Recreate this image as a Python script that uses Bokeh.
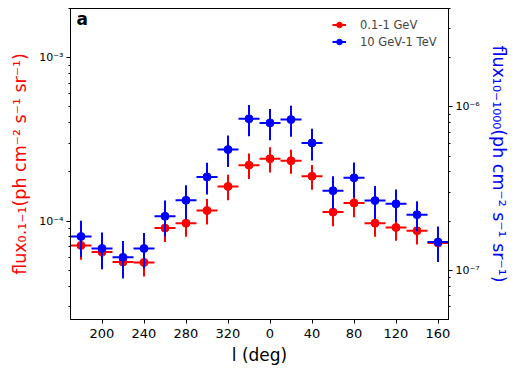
from bokeh.plotting import figure
from bokeh.models import (Range1d, LogScale, LogAxis, FixedTicker, Legend, LegendItem,
                          Label, ColumnDataSource)
from bokeh.embed import file_html
from bokeh.resources import INLINE

# ---------------- data ----------------
l_deg = [180, 200, 220, 240, 260, 280, 300, 320, 340, 0, 20, 40, 60, 80, 100, 120, 140, 160]
bin_half_width = 10

flux_low = [7.10e-5, 6.47e-5, 5.62e-5, 5.59e-5, 9.06e-5, 9.72e-5, 1.16e-4, 1.63e-4, 2.20e-4,
            2.41e-4, 2.34e-4, 1.88e-4, 1.135e-4, 1.29e-4, 9.72e-5, 9.14e-5, 8.73e-5, 7.34e-5]
err_low = [1.3e-5, 1.2e-5, 1.0e-5, 1.0e-5, 1.6e-5, 1.7e-5, 2.05e-5, 2.9e-5, 3.9e-5,
           4.25e-5, 3.9e-5, 3.25e-5, 2.05e-5, 2.35e-5, 1.7e-5, 1.55e-5, 1.55e-5, 1.3e-5]

flux_high = [1.61e-7, 1.36e-7, 1.20e-7, 1.36e-7, 2.14e-7, 2.68e-7, 3.73e-7, 5.48e-7, 8.45e-7,
             7.98e-7, 8.36e-7, 6.02e-7, 3.07e-7, 3.68e-7, 2.67e-7, 2.55e-7, 2.19e-7, 1.49e-7]
err_high = [4.0e-8, 3.45e-8, 3.1e-8, 3.3e-8, 5.3e-8, 6.3e-8, 8.2e-8, 1.2e-7, 1.83e-7,
            1.73e-7, 1.79e-7, 1.32e-7, 6.9e-8, 8.8e-8, 6.1e-8, 5.7e-8, 4.6e-8, 3.65e-8]

x_tick_labels = ["200", "240", "280", "320", "0", "40", "80", "120", "160"]
left_major = [1e-4, 1e-3]
left_major_labels = ["10⁻⁴", "10⁻³"]
left_minor = [3e-5, 4e-5, 5e-5, 6e-5, 7e-5, 8e-5, 9e-5,
              2e-4, 3e-4, 4e-4, 5e-4, 6e-4, 7e-4, 8e-4, 9e-4, 2e-3]
right_major = [1e-7, 1e-6]
right_major_labels = ["10⁻⁷", "10⁻⁶"]
right_minor = [6e-8, 7e-8, 8e-8, 9e-8,
               2e-7, 3e-7, 4e-7, 5e-7, 6e-7, 7e-7, 8e-7, 9e-7, 2e-6, 3e-6, 4e-6]

series_names = ["0.1-1 GeV", "10 GeV-1 TeV"]
RED = "#ff0000"
BLUE = "#0000ff"
FONT = "DejaVu Sans"


def unwrap(l):
    # longitude axis runs 170 -> 360 -> 170 (i.e. wraps through 0)
    return l if l >= 170 else l + 360


xs = [unwrap(v) for v in l_deg]

p = figure(width=518, height=372, y_axis_type="log",
           x_range=Range1d(170, 530), y_range=Range1d(2.5e-5, 2.0e-3),
           output_backend="svg", toolbar_location=None)
p.extra_y_ranges = {"hi": Range1d(5.0e-8, 4.0e-6)}
p.extra_y_scales = {"hi": LogScale()}

p.min_border_left = 70
p.min_border_right = 70
p.min_border_top = 8
p.min_border_bottom = 53
p.background_fill_color = "white"
p.border_fill_color = "white"
p.outline_line_color = "black"
p.outline_line_width = 1
p.xgrid.visible = False
p.ygrid.visible = False


def src(ys, es):
    return ColumnDataSource(dict(
        x=xs, y=ys,
        xl=[x - bin_half_width for x in xs], xr=[x + bin_half_width for x in xs],
        yl=[y - e for y, e in zip(ys, es)], yh=[y + e for y, e in zip(ys, es)]))


s_low = src(flux_low, err_low)
s_high = src(flux_high, err_high)

r_low = [
    p.segment("xl", "y", "xr", "y", source=s_low, line_color=RED, line_width=2),
    p.segment("x", "yl", "x", "yh", source=s_low, line_color=RED, line_width=2),
    p.scatter("x", "y", source=s_low, size=8, fill_color=RED, line_color=RED),
]
r_high = [
    p.segment("xl", "y", "xr", "y", source=s_high, line_color=BLUE, line_width=2, y_range_name="hi"),
    p.segment("x", "yl", "x", "yh", source=s_high, line_color=BLUE, line_width=2, y_range_name="hi"),
    p.scatter("x", "y", source=s_high, size=8, fill_color=BLUE, line_color=BLUE, y_range_name="hi"),
]

# ---------------- axes ----------------
x_tick_pos = [unwrap(int(t)) for t in x_tick_labels]
xa = p.xaxis[0]
xa.ticker = FixedTicker(ticks=x_tick_pos, minor_ticks=[])
xa.major_label_overrides = {pos: lab for pos, lab in zip(x_tick_pos, x_tick_labels)}
xa.axis_label = "l (deg)"

ya = p.yaxis[0]
ya.ticker = FixedTicker(ticks=left_major, minor_ticks=left_minor)
ya.major_label_overrides = {v: lab for v, lab in zip(left_major, left_major_labels)}
ya.axis_label = "flux₀.₁₋₁(ph cm⁻² s⁻¹ sr⁻¹)"
ya.axis_label_text_color = RED

ra = LogAxis(y_range_name="hi")
ra.ticker = FixedTicker(ticks=right_major, minor_ticks=right_minor)
ra.major_label_overrides = {v: lab for v, lab in zip(right_major, right_major_labels)}
ra.axis_label = "flux₁₀₋₁₀₀₀(ph cm⁻² s⁻¹ sr⁻¹)"
ra.axis_label_text_color = BLUE
p.add_layout(ra, "right")

for ax in [xa, ya, ra]:
    ax.axis_line_color = "black"
    ax.major_tick_line_color = "black"
    ax.minor_tick_line_color = "black"
    ax.major_tick_in = 0
    ax.major_tick_out = 4
    ax.minor_tick_in = 0
    ax.minor_tick_out = 2
    ax.major_label_text_font = FONT
    ax.major_label_text_color = "black"
    ax.axis_label_text_font = FONT
    ax.axis_label_text_font_style = "normal"

xa.major_label_text_font_size = "13px"
xa.axis_label_text_font_size = "17px"
xa.axis_label_text_color = "black"
xa.axis_label_standoff = 4
for ax in [ya, ra]:
    ax.major_label_text_font_size = "11px"
    ax.major_label_standoff = 3
    ax.axis_label_text_font_size = "17.5px"
    ax.axis_label_standoff = 6

# ---------------- legend ----------------
legend = Legend(items=[LegendItem(label=series_names[0], renderers=[r_low[0], r_low[2]]),
                       LegendItem(label=series_names[1], renderers=[r_high[0], r_high[2]])],
                location=(262, 269))
legend.glyph_width = 14
legend.glyph_height = 17
legend.label_standoff = 14
legend.spacing = 0
legend.padding = 0
legend.margin = 0
legend.border_line_color = None
legend.background_fill_alpha = 0
legend.label_text_font = FONT
legend.label_text_font_size = "11.5px"
legend.label_height = 17
p.add_layout(legend)

p.add_layout(Label(x=6, y=291, x_units="screen", y_units="screen", text="a",
                   text_font=FONT, text_font_style="bold", text_font_size="17px",
                   text_color="black"))

open("out.html", "w").write(file_html(p, INLINE))
